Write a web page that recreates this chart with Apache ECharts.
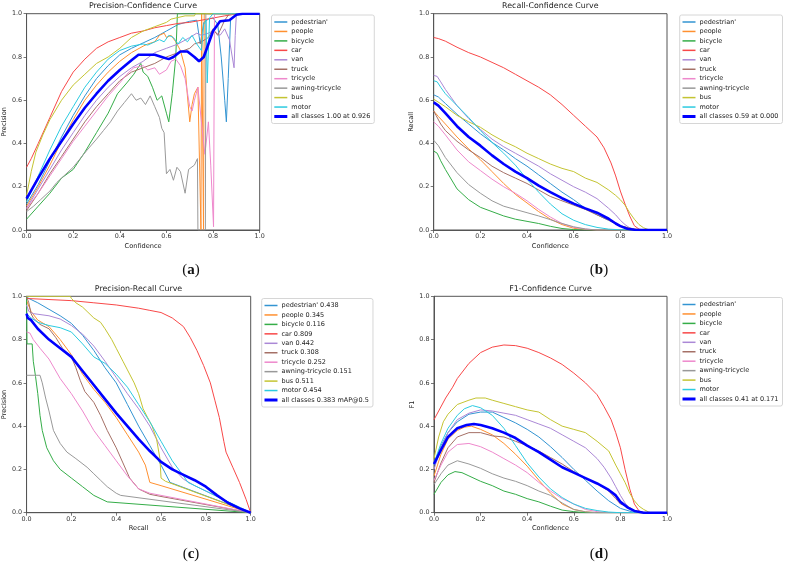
<!DOCTYPE html>
<html><head><meta charset="utf-8">
<script src="https://cdn.jsdelivr.net/npm/echarts@6/dist/echarts.min.js"></script>
<style>html,body{margin:0;padding:0;background:#fff}#c{width:788px;height:564px}</style>
</head><body><div id="c"></div>
<script>
// ---- classes & labels ----
const classNames = ["pedestrian'", "people", "bicycle", "car", "van", "truck", "tricycle", "awning-tricycle", "bus", "motor"];
const apValues = [0.438, 0.345, 0.116, 0.809, 0.442, 0.308, 0.252, 0.151, 0.511, 0.454];
const allLabels = ["all classes 1.00 at 0.926", "all classes 0.59 at 0.000", "all classes 0.383 mAP@0.5", "all classes 0.41 at 0.171"];
const titles = ["Precision-Confidence Curve", "Recall-Confidence Curve", "Precision-Recall Curve", "F1-Confidence Curve"];
const xNames = ["Confidence", "Confidence", "Recall", "Confidence"];
const yNames = ["Precision", "Recall", "Precision", "F1"];
const panelLetters = ["a", "b", "c", "d"];
const tickValues = [0, 0.2, 0.4, 0.6, 0.8, 1.0];

// ---- (a) Precision-Confidence ----
const pcPedestrian = [[0,.12],[.05,.21],[.1,.32],[.15,.43],[.2,.53],[.25,.62],[.3,.7],[.35,.76],[.4,.81],[.45,.84],[.5,.865],[.55,.89],[.6,.92],[.65,.95],[.7,.965],[.73,.97],[.745,.86],[.76,.96],[.78,.975],[.8,.98],[.82,.95],[.835,.8],[.85,.6],[.857,.5],[.865,.7],[.875,.97],[.9,1],[1,1]];
const pcPeople = [[0,.11],[.05,.2],[.1,.3],[.15,.41],[.2,.51],[.25,.6],[.3,.67],[.35,.73],[.4,.78],[.45,.82],[.5,.85],[.52,.86],[.55,.87],[.57,.9],[.59,.91],[.6,.89],[.62,.9],[.64,.87],[.66,.83],[.68,.75],[.69,.62],[.7,.5],[.71,.58],[.72,.63],[.735,.66],[.748,0],[.751,1],[.757,1],[.759,0],[.762,1],[1,1]];
const pcBicycle = [[0,.05],[.05,.11],[.1,.17],[.15,.24],[.2,.28],[.25,.36],[.3,.45],[.35,.54],[.39,.63],[.43,.68],[.46,.72],[.49,.77],[.5,.73],[.52,.71],[.54,.66],[.56,.6],[.58,.62],[.6,.54],[.61,.5],[.625,.63],[.64,.8],[.647,1],[1,1]];
const pcCar = [[0,.29],[.02,.33],[.05,.4],[.1,.52],[.15,.64],[.2,.73],[.25,.79],[.3,.84],[.35,.87],[.4,.89],[.45,.91],[.5,.92],[.55,.935],[.6,.945],[.65,.955],[.7,.96],[.75,.97],[.8,.98],[.85,.99],[.88,.995],[.9,1],[1,1]];
const pcVan = [[0,.1],[.05,.19],[.1,.28],[.15,.37],[.2,.45],[.25,.53],[.3,.6],[.35,.66],[.4,.71],[.45,.75],[.5,.78],[.55,.82],[.6,.84],[.65,.86],[.7,.89],[.73,.91],[.75,.9],[.78,.91],[.8,.92],[.83,.9],[.85,.93],[.87,.88],[.89,.75],[.895,.9],[.9,1],[1,1]];
const pcTruck = [[0,.09],[.05,.17],[.1,.26],[.15,.34],[.2,.42],[.25,.5],[.3,.57],[.35,.63],[.4,.69],[.45,.73],[.5,.75],[.55,.77],[.6,.8],[.65,.82],[.7,.84],[.72,.86],[.75,.87],[.78,.89],[.8,.93],[.82,.9],[.85,.97],[.87,1],[1,1]];
const pcTricycle = [[0,.1],[.05,.17],[.1,.25],[.15,.33],[.2,.41],[.25,.48],[.3,.55],[.35,.62],[.4,.68],[.43,.72],[.46,.75],[.5,.76],[.52,.74],[.55,.75],[.57,.72],[.6,.74],[.62,.78],[.64,.79],[.66,.76],[.68,.7],[.7,.57],[.71,.55],[.72,.6],[.735,.66],[.75,.5],[.765,.35],[.78,.5],[.79,.3],[.802,.015],[.806,1],[1,1]];
const pcAwning = [[0,.085],[.03,.11],[.06,.14],[.1,.18],[.13,.22],[.16,.25],[.2,.29],[.23,.33],[.26,.37],[.3,.42],[.33,.46],[.36,.5],[.39,.55],[.42,.59],[.45,.63],[.47,.6],[.49,.61],[.51,.58],[.53,.62],[.55,.57],[.57,.52],[.58,.47],[.59,.45],[.6,.26],[.615,.28],[.63,.23],[.645,.29],[.66,.27],[.68,.17],[.695,.28],[.72,.3],[.733,.33],[.735,0],[.767,0],[.769,1],[1,1]];
const pcBus = [[0,.16],[.02,.27],[.04,.36],[.07,.44],[.1,.51],[.15,.6],[.2,.67],[.25,.72],[.3,.77],[.35,.8],[.4,.84],[.45,.89],[.5,.92],[.55,.94],[.6,.96],[.62,.975],[.64,.98],[.68,.99],[.72,.99],[.725,1],[1,1]];
const pcMotor = [[0,.13],[.05,.25],[.1,.37],[.15,.48],[.2,.57],[.25,.66],[.3,.73],[.35,.79],[.4,.83],[.45,.85],[.5,.86],[.52,.855],[.55,.87],[.57,.88],[.59,.87],[.61,.9],[.63,.89],[.65,.86],[.67,.89],[.69,.87],[.71,.9],[.73,.86],[.75,.83],[.76,.95],[.77,.97],[.775,.68],[.785,.98],[.8,1],[1,1]];
const pcAll = [[0,.145],[.05,.24],[.1,.33],[.15,.41],[.2,.49],[.25,.565],[.3,.63],[.35,.69],[.4,.74],[.45,.785],[.48,.81],[.55,.81],[.58,.8],[.61,.79],[.63,.8],[.66,.825],[.69,.825],[.72,.8],[.74,.78],[.76,.8],[.78,.86],[.8,.92],[.83,.965],[.87,.97],[.9,.995],[.926,1],[1,1]];

// ---- (b) Recall-Confidence ----
const rcPedestrian = [[0,.625],[.02,.615],[.05,.585],[.1,.535],[.15,.49],[.2,.445],[.25,.405],[.3,.37],[.35,.33],[.4,.295],[.45,.255],[.5,.215],[.55,.175],[.6,.14],[.65,.1],[.7,.07],[.75,.045],[.8,.018],[.85,.004],[.9,0],[1,0]];
const rcPeople = [[0,.55],[.02,.525],[.05,.49],[.1,.43],[.15,.375],[.2,.325],[.25,.27],[.3,.215],[.35,.165],[.4,.125],[.45,.085],[.5,.05],[.55,.025],[.6,.008],[.65,.002],[.7,0],[1,0]];
const rcBicycle = [[0,.365],[.015,.355],[.03,.32],[.05,.28],[.1,.19],[.15,.14],[.2,.105],[.25,.085],[.3,.065],[.35,.05],[.4,.04],[.45,.03],[.5,.017],[.55,.007],[.6,.002],[.65,0],[1,0]];
const rcCar = [[0,.89],[.02,.885],[.05,.873],[.1,.845],[.15,.82],[.2,.8],[.25,.775],[.3,.75],[.35,.72],[.4,.69],[.45,.66],[.5,.625],[.55,.58],[.6,.53],[.65,.48],[.7,.43],[.73,.38],[.76,.31],[.78,.25],[.8,.18],[.82,.12],[.84,.065],[.86,.02],[.88,.004],[.9,0],[1,0]];
const rcVan = [[0,.715],[.015,.71],[.03,.685],[.05,.65],[.1,.575],[.15,.515],[.2,.465],[.25,.42],[.3,.385],[.35,.355],[.4,.325],[.45,.295],[.5,.26],[.55,.23],[.6,.2],[.65,.175],[.7,.145],[.75,.1],[.78,.07],[.8,.045],[.82,.025],[.84,.01],[.87,.002],[.9,0],[1,0]];
const rcTruck = [[0,.55],[.01,.53],[.03,.49],[.05,.46],[.1,.41],[.15,.37],[.2,.335],[.25,.295],[.3,.265],[.35,.24],[.4,.215],[.45,.185],[.5,.155],[.55,.135],[.6,.115],[.65,.095],[.7,.07],[.75,.045],[.8,.02],[.85,.006],[.9,0],[1,0]];
const rcTricycle = [[0,.5],[.02,.48],[.05,.44],[.1,.37],[.15,.315],[.2,.275],[.25,.235],[.3,.2],[.35,.17],[.4,.135],[.45,.095],[.5,.06],[.55,.03],[.6,.012],[.65,.004],[.7,0],[1,0]];
const rcAwning = [[0,.415],[.02,.39],[.05,.335],[.1,.265],[.15,.21],[.2,.17],[.25,.135],[.3,.11],[.35,.095],[.4,.08],[.45,.065],[.5,.048],[.55,.03],[.6,.015],[.65,.005],[.7,0],[1,0]];
const rcBus = [[0,.605],[.05,.57],[.1,.53],[.15,.5],[.2,.475],[.25,.44],[.3,.41],[.35,.385],[.4,.355],[.45,.33],[.5,.305],[.55,.285],[.6,.27],[.65,.24],[.7,.22],[.75,.185],[.78,.16],[.8,.14],[.82,.115],[.84,.08],[.86,.05],[.88,.025],[.9,.01],[.92,.002],[.93,0],[1,0]];
const rcMotor = [[0,.69],[.015,.685],[.03,.66],[.05,.63],[.1,.575],[.15,.52],[.2,.46],[.25,.405],[.3,.355],[.35,.3],[.4,.235],[.45,.175],[.5,.12],[.55,.075],[.6,.045],[.65,.025],[.7,.012],[.75,.004],[.8,.001],[.85,0],[1,0]];
const rcAll = [[0,.59],[.02,.575],[.05,.54],[.1,.48],[.15,.43],[.2,.39],[.25,.345],[.3,.305],[.35,.27],[.4,.24],[.45,.205],[.5,.175],[.55,.147],[.6,.122],[.65,.1],[.7,.08],[.75,.052],[.78,.03],[.8,.018],[.83,.006],[.86,.001],[.9,0],[1,0]];

// ---- (c) Precision-Recall ----
const prPedestrian = [[0,1],[.01,.99],[.05,.97],[.1,.94],[.15,.91],[.2,.875],[.25,.82],[.3,.75],[.35,.67],[.4,.6],[.45,.5],[.5,.4],[.55,.31],[.6,.22],[.64,.14],[1,0]];
const prPeople = [[0,.98],[.02,.93],[.05,.89],[.1,.86],[.15,.8],[.2,.73],[.25,.64],[.3,.57],[.35,.51],[.4,.44],[.45,.36],[.5,.28],[.53,.22],[.55,.14],[.6,.125],[1,0]];
const prBicycle = [[0,1],[.002,.78],[.025,.78],[.03,.7],[.04,.63],[.05,.55],[.06,.45],[.07,.38],[.09,.3],[.12,.24],[.15,.2],[.2,.16],[.25,.12],[.3,.08],[.35,.055],[.36,.05],[1,0]];
const prCar = [[0,.99],[.1,.985],[.2,.98],[.3,.97],[.4,.96],[.5,.945],[.55,.935],[.6,.925],[.65,.9],[.7,.86],[.73,.81],[.76,.75],[.79,.68],[.82,.6],[.84,.52],[.86,.44],[.88,.33],[.89,.28],[.92,.21],[.95,.14],[.98,.06],[1,0]];
const prVan = [[0,.96],[.01,.93],[.03,.92],[.1,.91],[.15,.895],[.2,.865],[.25,.825],[.3,.77],[.35,.7],[.4,.625],[.45,.55],[.5,.48],[.55,.4],[.6,.3],[.65,.21],[.7,.155],[.75,.125],[1,0]];
const prTruck = [[0,1],[.01,.97],[.02,.92],[.03,.9],[.06,.87],[.1,.85],[.13,.81],[.16,.76],[.2,.72],[.22,.67],[.24,.61],[.26,.56],[.3,.51],[.33,.45],[.36,.38],[.4,.3],[.43,.23],[.46,.16],[.5,.11],[.55,.085],[.6,.075],[1,0]];
const prTricycle = [[0,.835],[.015,.83],[.03,.8],[.06,.76],[.1,.71],[.15,.62],[.2,.55],[.25,.47],[.3,.38],[.35,.31],[.4,.24],[.45,.17],[.5,.11],[.55,.09],[.6,.08],[1,0]];
const prAwning = [[0,.635],[.06,.635],[.07,.6],[.085,.53],[.1,.47],[.12,.38],[.15,.32],[.18,.28],[.22,.25],[.27,.21],[.3,.18],[.33,.15],[.36,.12],[.4,.09],[.42,.08],[1,0]];
const prBus = [[0,1],[.195,1],[.2,.99],[.22,.97],[.25,.95],[.27,.93],[.3,.9],[.33,.88],[.35,.85],[.38,.8],[.4,.76],[.43,.7],[.45,.66],[.48,.6],[.5,.55],[.52,.48],[.54,.44],[.56,.4],[.58,.34],[.595,.25],[.6,.16],[.62,.145],[1,0]];
const prMotor = [[0,.92],[.02,.9],[.05,.88],[.1,.865],[.15,.855],[.2,.835],[.25,.78],[.3,.72],[.35,.69],[.4,.64],[.45,.58],[.5,.5],[.55,.42],[.6,.33],[.65,.24],[.7,.17],[.72,.14],[1,0]];
const prAll = [[0,.92],[.005,.9],[.02,.89],[.05,.85],[.1,.8],[.15,.76],[.2,.72],[.25,.655],[.3,.59],[.35,.525],[.4,.46],[.45,.4],[.5,.34],[.55,.285],[.6,.235],[.65,.2],[.7,.175],[.75,.15],[.8,.12],[.85,.08],[.9,.045],[.95,.02],[1,0]];

// ---- (d) F1-Confidence ----
const f1Pedestrian = [[0,.22],[.03,.31],[.06,.37],[.1,.42],[.15,.455],[.2,.465],[.25,.465],[.3,.44],[.35,.415],[.4,.385],[.45,.35],[.5,.305],[.55,.255],[.6,.2],[.65,.15],[.7,.1],[.75,.055],[.8,.02],[.85,.004],[.9,0],[1,0]];
const f1People = [[0,.17],[.03,.27],[.06,.34],[.1,.38],[.13,.395],[.16,.4],[.2,.385],[.25,.36],[.3,.32],[.35,.27],[.4,.215],[.45,.15],[.5,.09],[.55,.04],[.6,.015],[.65,.004],[.7,0],[1,0]];
const f1Bicycle = [[0,.085],[.03,.14],[.06,.175],[.09,.19],[.12,.185],[.15,.17],[.2,.145],[.25,.125],[.3,.1],[.35,.085],[.4,.065],[.45,.05],[.5,.03],[.55,.012],[.6,.005],[.65,0],[1,0]];
const f1Car = [[0,.43],[.02,.47],[.05,.53],[.08,.58],[.1,.62],[.15,.69],[.2,.74],[.25,.765],[.3,.775],[.35,.772],[.4,.76],[.45,.74],[.5,.715],[.55,.685],[.6,.645],[.65,.6],[.7,.545],[.73,.49],[.76,.43],[.78,.37],[.8,.3],[.82,.2],[.84,.11],[.86,.04],[.88,.008],[.9,0],[1,0]];
const f1Van = [[0,.2],[.03,.3],[.06,.37],[.1,.43],[.15,.46],[.2,.475],[.25,.47],[.3,.46],[.35,.45],[.4,.43],[.45,.41],[.5,.39],[.55,.36],[.6,.33],[.65,.3],[.7,.25],[.73,.21],[.76,.16],[.78,.12],[.8,.08],[.82,.045],[.84,.02],[.87,.005],[.9,0],[1,0]];
const f1Truck = [[0,.14],[.03,.23],[.06,.3],[.1,.35],[.15,.37],[.2,.37],[.25,.355],[.3,.35],[.35,.33],[.4,.31],[.45,.285],[.5,.255],[.55,.225],[.6,.19],[.65,.16],[.7,.135],[.75,.1],[.78,.065],[.8,.04],[.83,.03],[.86,.01],[.9,0],[1,0]];
const f1Tricycle = [[0,.15],[.03,.22],[.06,.28],[.1,.315],[.15,.32],[.2,.305],[.25,.28],[.3,.25],[.35,.22],[.4,.185],[.45,.14],[.5,.1],[.55,.065],[.6,.04],[.65,.015],[.7,.005],[.75,0],[1,0]];
const f1Awning = [[0,.13],[.03,.18],[.06,.22],[.1,.24],[.15,.225],[.2,.205],[.25,.18],[.3,.16],[.35,.145],[.4,.125],[.45,.1],[.5,.08],[.55,.045],[.6,.015],[.65,.004],[.7,0],[1,0]];
const f1Bus = [[0,.25],[.02,.35],[.04,.42],[.06,.455],[.1,.5],[.15,.52],[.18,.53],[.22,.53],[.25,.52],[.3,.505],[.35,.49],[.4,.475],[.45,.465],[.5,.43],[.55,.4],[.6,.385],[.65,.37],[.7,.33],[.75,.285],[.78,.22],[.8,.18],[.82,.14],[.84,.09],[.86,.055],[.88,.03],[.9,.015],[.92,.004],[.93,0],[1,0]];
const f1Motor = [[0,.23],[.03,.32],[.06,.39],[.1,.45],[.13,.48],[.165,.495],[.2,.485],[.25,.45],[.3,.39],[.35,.31],[.4,.23],[.45,.165],[.5,.11],[.55,.07],[.6,.04],[.65,.02],[.7,.01],[.75,.003],[.8,0],[1,0]];
const f1All = [[0,.225],[.03,.29],[.06,.35],[.1,.39],[.14,.405],[.171,.41],[.2,.405],[.25,.39],[.3,.37],[.35,.345],[.4,.31],[.45,.28],[.5,.245],[.55,.21],[.6,.185],[.65,.16],[.7,.135],[.75,.105],[.78,.08],[.8,.05],[.83,.025],[.86,.008],[.9,0],[1,0]];

const panelData = [
  [pcPedestrian, pcPeople, pcBicycle, pcCar, pcVan, pcTruck, pcTricycle, pcAwning, pcBus, pcMotor, pcAll],
  [rcPedestrian, rcPeople, rcBicycle, rcCar, rcVan, rcTruck, rcTricycle, rcAwning, rcBus, rcMotor, rcAll],
  [prPedestrian, prPeople, prBicycle, prCar, prVan, prTruck, prTricycle, prAwning, prBus, prMotor, prAll],
  [f1Pedestrian, f1People, f1Bicycle, f1Car, f1Van, f1Truck, f1Tricycle, f1Awning, f1Bus, f1Motor, f1All]
];

// ---- styling / layout ----
const colors = ['#3394d2', '#ff9030', '#35ad48', '#f84848', '#ab88d6', '#a57066', '#ee88cc', '#999999', '#c4c432', '#2ccbe0'];
const allColor = '#0000ff';
const FONT = 'DejaVu Sans';
const grids = [
  {left: 26.3, top: 13.7, width: 233.4, height: 216.3},
  {left: 433.7, top: 13.7, width: 233.3, height: 216.3},
  {left: 26.3, top: 296.3, width: 224.4, height: 216.4},
  {left: 434, top: 296.3, width: 233, height: 216.4}
];
const legendPos = [{left: 271.5, top: 15}, {left: 679.7, top: 15}, {left: 261.7, top: 298.5}, {left: 679.7, top: 297.5}];
const labelPos = [[191, 270], [599, 270], [191, 554], [599, 554]];

const thinIcon = 'path://M0,0M13,6M0,2.25h13v1.5h-13z';
const thickIcon = 'path://M0,0M13,6M0,1.5h13v3h-13z';

const option = {
  animation: false,
  backgroundColor: '#fff',
  title: [], grid: [], xAxis: [], yAxis: [], legend: [], series: [], graphic: []
};

for (let p = 0; p < 4; p++) {
  const g = grids[p];
  option.grid.push({left: g.left, top: g.top, width: g.width, height: g.height, show: true, borderColor: '#555', borderWidth: 1, containLabel: false});
  option.title.push({
    text: titles[p], left: g.left + g.width / 2, top: g.top - 11.5, textAlign: 'center', padding: 0,
    textStyle: {fontFamily: FONT, fontSize: 7.9, fontWeight: 'normal', color: '#222'}
  });
  const axisCommon = {
    type: 'value', min: 0, max: 1, interval: 0.2, gridIndex: p,
    axisLine: {show: true, lineStyle: {color: '#555', width: 1}},
    axisTick: {show: true, length: 3, lineStyle: {color: '#555', width: 0.8}},
    splitLine: {show: false},
    axisLabel: {fontFamily: FONT, fontSize: 6.4, color: '#333', formatter: v => v.toFixed(1)},
    nameLocation: 'middle',
    nameTextStyle: {fontFamily: FONT, fontSize: 6.6, color: '#222'}
  };
  option.xAxis.push(Object.assign({}, axisCommon, {name: xNames[p], nameGap: 12.5, axisLabel: Object.assign({}, axisCommon.axisLabel, {margin: 3.5})}));
  option.yAxis.push(Object.assign({}, axisCommon, {name: yNames[p], nameGap: 15.5, axisLabel: Object.assign({}, axisCommon.axisLabel, {margin: 4.5})}));

  const names = classNames.map((n, i) => p === 2 ? n + ' ' + apValues[i].toFixed(3) : n);
  names.push(allLabels[p]);
  const legendData = [];
  for (let i = 0; i < 11; i++) {
    const isAll = i === 10;
    const col = isAll ? allColor : colors[i];
    option.series.push({
      type: 'line', name: names[i], data: panelData[p][i], xAxisIndex: p, yAxisIndex: p,
      showSymbol: false, symbol: 'none', silent: true, z: isAll ? 4 : 2,
      lineStyle: {width: isAll ? 2.6 : 1, color: col}, itemStyle: {color: col},
      emphasis: {disabled: true}
    });
    legendData.push({name: names[i], icon: isAll ? thickIcon : thinIcon, itemStyle: {color: col}});
  }
  option.legend.push({
    left: legendPos[p].left, top: legendPos[p].top, orient: 'vertical',
    data: legendData, itemWidth: 13, itemHeight: 6, itemGap: 2.45,
    padding: [3.5, 4, 3.5, 2.8], borderColor: '#d6d6d6', borderWidth: 1, borderRadius: 2,
    backgroundColor: '#fff', selectedMode: false,
    textStyle: {fontFamily: FONT, fontSize: 6.5, color: '#222', lineHeight: 7, padding: [0, 0, 0, -1]}
  });
  option.graphic.push({
    type: 'text', x: labelPos[p][0], y: labelPos[p][1], silent: true,
    style: {
      text: '{p|(}{l|' + panelLetters[p] + '}{p|)}', align: 'center', verticalAlign: 'middle',
      textAlign: 'center', textVerticalAlign: 'middle',
      rich: {
        p: {fontFamily: 'Liberation Serif', fontSize: 15, fill: '#111'},
        l: {fontFamily: 'Liberation Serif', fontSize: 15, fontWeight: 'bold', fill: '#111'}
      }
    }
  });
}

const chart = echarts.init(document.getElementById('c'), null, {renderer: 'canvas'});
chart.setOption(option);
</script>
</body></html>
